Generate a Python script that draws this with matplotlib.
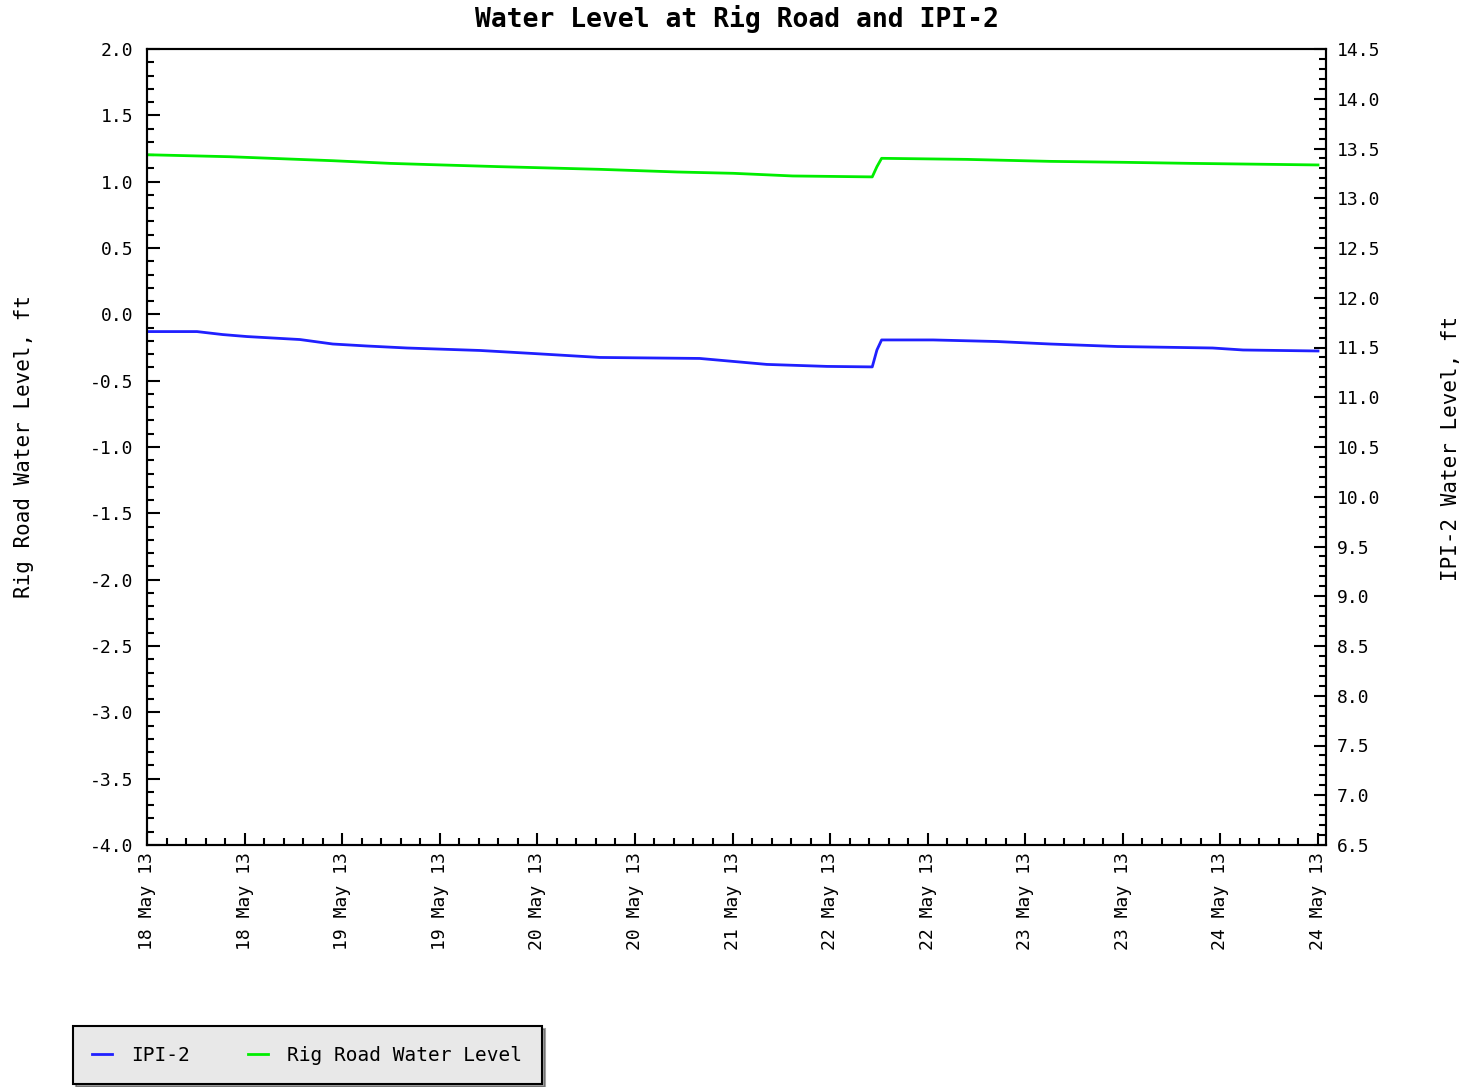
import numpy as np
import pandas as pd
import matplotlib
matplotlib.use("Agg")
import matplotlib.pyplot as plt
import matplotlib.dates as mdates
from matplotlib.ticker import MultipleLocator, FixedLocator

# hours after 18 May 2013 09:00
start = pd.Timestamp("2013-05-18 09:00")
span_hours = 150

ipi2_hours = [0.0, 6.4, 9.7, 12.8, 19.6, 23.8, 28.2, 33.3, 42.7, 49.4, 58.0, 70.8,
              79.4, 87.1, 92.9, 93.5, 94.1, 100.7, 108.9, 115.7, 124.3, 136.5,
              140.4, 150.0]
ipi2_level = [11.66, 11.66, 11.63, 11.61, 11.58, 11.535, 11.515, 11.495, 11.47,
              11.44, 11.40, 11.39, 11.33, 11.31, 11.305, 11.475, 11.576, 11.576,
              11.56, 11.535, 11.51, 11.495, 11.475, 11.465]

rig_hours = [0.0, 10.6, 23.8, 31.1, 36.6, 45.2, 58.0, 67.9, 75.1, 82.7, 92.9,
             93.5, 94.1, 105.0, 115.7, 125.0, 133.6, 150.0]
rig_level = [1.203, 1.188, 1.158, 1.138, 1.128, 1.113, 1.093, 1.073, 1.063,
             1.043, 1.036, 1.113, 1.176, 1.168, 1.153, 1.146, 1.138, 1.126]

ipi2_time = start + pd.to_timedelta(ipi2_hours, unit="h")
rig_time = start + pd.to_timedelta(rig_hours, unit="h")

plt.rcParams["font.family"] = ["DejaVu Sans Mono"]

fig = plt.figure(figsize=(14.72, 10.87), dpi=100)
ax = fig.add_axes([147 / 1472, 1 - 845 / 1087, 1179 / 1472, 796 / 1087])
ax2 = ax.twinx()

ax.plot(rig_time, rig_level, color="#00ee00", lw=2, label="Rig Road Water Level")
ax2.plot(ipi2_time, ipi2_level, color="#2020ff", lw=2, label="IPI-2")

ax.set_ylim(-4.0, 2.0)
ax2.set_ylim(6.5, 14.5)
t0 = mdates.date2num(start)
t1 = mdates.date2num(start + pd.Timedelta(hours=span_hours))
ax.set_xlim(t0, t0 + (t1 - t0) * 1179 / 1171)

major = np.linspace(t0, t1, 13)
minor = np.linspace(t0, t1, 61)
ax.xaxis.set_major_locator(FixedLocator(major))
ax.xaxis.set_minor_locator(FixedLocator(minor))
ax.xaxis.set_major_formatter(mdates.DateFormatter("%d %b %y"))

for a in (ax, ax2):
    a.yaxis.set_major_locator(MultipleLocator(0.5))
    a.yaxis.set_minor_locator(MultipleLocator(0.1))
    a.yaxis.set_major_formatter(matplotlib.ticker.FormatStrFormatter("%.1f"))
    for s in a.spines.values():
        s.set_linewidth(1.5)

ax.tick_params(axis="x", which="both", direction="in", labelsize=13,
               labelrotation=90, pad=5, width=1.5)
ax.tick_params(axis="x", which="major", length=9)
ax.tick_params(axis="x", which="minor", length=5)
ax.tick_params(axis="y", which="both", direction="in", labelsize=13, pad=10,
               width=1.5)
ax.tick_params(axis="y", which="major", length=9)
ax.tick_params(axis="y", which="minor", length=5)
ax2.tick_params(axis="y", which="both", direction="in", labelsize=13, pad=8,
                width=1.5)
ax2.tick_params(axis="y", which="major", length=9)
ax2.tick_params(axis="y", which="minor", length=5)

ax.set_ylabel("Rig Road Water Level, ft", fontsize=15, labelpad=40)
fig.text(1451 / 1472, 1 - 448 / 1087, "IPI-2 Water Level, ft", fontsize=15,
         rotation=90, ha="center", va="center")
ax.set_title("Water Level at Rig Road and IPI-2", fontsize=19, fontweight="bold",
             pad=16)

h1, l1 = ax2.get_legend_handles_labels()
h2, l2 = ax.get_legend_handles_labels()
leg = fig.legend(h1 + h2, l1 + l2, loc="lower left",
                 bbox_to_anchor=(73 / 1472, 1 - 1084 / 1087), ncol=2,
                 fontsize=14, frameon=True, fancybox=False, shadow=True,
                 handlelength=1.0, columnspacing=3.0, borderpad=1.0,
                 handletextpad=1.0, borderaxespad=0)
leg.get_frame().set_facecolor("#e8e8e8")
leg.get_frame().set_edgecolor("black")
leg.get_frame().set_linewidth(1.5)
leg.get_frame().set_alpha(1)

fig.savefig("out.png", dpi=100)
